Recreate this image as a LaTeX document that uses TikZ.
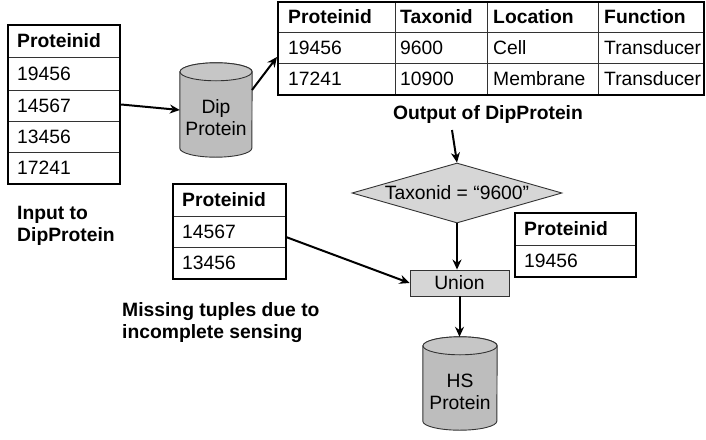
\documentclass[tikz,border=0pt]{standalone}
\usepackage{fontspec}
\setmainfont{Liberation Sans}
\usetikzlibrary{arrows.meta,shapes.geometric}
\definecolor{cylgray}{HTML}{BDBDBD}
\definecolor{cyltop}{HTML}{C6C6C6}
\definecolor{boxgray}{HTML}{D6D6D6}
\tikzset{
  every node/.style={font=\fontsize{19.3}{22}\selectfont, inner sep=0pt},
  tablebox/.style={draw=black, line width=2.4pt},
  sep/.style={draw=black!80, line width=1pt},
  celltxt/.style={anchor=west},
  hdr/.style={anchor=west, font=\fontsize{19.3}{22}\selectfont\bfseries},
  lbl/.style={align=left, anchor=west, font=\fontsize{19.3}{22}\selectfont\bfseries},
  arr/.style={line width=2pt, -{Stealth[length=10pt,width=9pt]}},
  dbnode/.style={minimum width=#1, minimum height=94pt, align=center, draw=none},
  cyl/.style={fill=cylgray, draw=black!80, line width=0.9pt},
}
\begin{document}
\begin{tikzpicture}[x=1pt,y=1pt]
\useasboundingbox (0,0) rectangle (706,-439);

% ---------- left table: input ----------
\node[tablebox, minimum width=112pt, minimum height=159pt] (t1) at (64,-104.5) {};
\draw[sep] (8,-57) -- (120,-57);
\draw[sep] (8,-90) -- (120,-90);
\draw[sep] (8,-121) -- (120,-121);
\draw[sep] (8,-152) -- (120,-152);
\node[hdr] (t1h) at (17,-41) {Proteinid};
\node[celltxt] (t1a) at (17,-73.5) {19456};
\node[celltxt] (t1b) at (17,-105.5) {14567};
\node[celltxt] (t1c) at (17,-136.5) {13456};
\node[celltxt] (t1d) at (17,-168) {17241};
\node[tablebox, minimum width=112pt, minimum height=159pt] at (64,-104.5) {};

\node[lbl] (inlbl) at (17,-226) {Input to\\DipProtein};

% ---------- Dip Protein cylinder ----------
\node[dbnode=72pt] (dip) at (216,-110) {};
\path[cyl] ([yshift=-9pt]dip.north west) -- ([yshift=9pt]dip.south west)
  arc[start angle=180, end angle=360, x radius=36pt, y radius=9pt]
  -- ([yshift=-9pt]dip.north east)
  arc[start angle=0, end angle=180, x radius=36pt, y radius=9pt] -- cycle;
\draw[cyl, fill=cyltop] ([yshift=-9pt]dip.north) ellipse[x radius=36pt, y radius=9pt];
\node[align=center] (diptxt) at ([yshift=-8pt]dip.center) {Dip\\Protein};

\draw[arr] (t1.east) -- (dip.west);

% ---------- big output table ----------
\node[tablebox, minimum width=426pt, minimum height=93pt] (t2) at (491,-48.5) {};
\draw[sep] (278,-32) -- (704,-32);
\draw[sep] (278,-63) -- (704,-63);
\draw[sep] (395,-2) -- (395,-95);
\draw[sep] (487,-2) -- (487,-95);
\draw[sep] (598,-2) -- (598,-95);
\node[hdr] (h1) at (288,-17) {Proteinid};
\node[hdr] (h2) at (400,-17) {Taxonid};
\node[hdr] (h3) at (493,-17) {Location};
\node[hdr] (h4) at (604,-17) {Function};
\node[celltxt] (c11) at (288,-47.5) {19456};
\node[celltxt] (c12) at (400,-47.5) {9600};
\node[celltxt] (c13) at (493,-47.5) {Cell};
\node[celltxt] (c14) at (604,-47.5) {Transducer};
\node[celltxt] (c21) at (288,-79) {17241};
\node[celltxt] (c22) at (400,-79) {10900};
\node[celltxt] (c23) at (493,-79) {Membrane};
\node[celltxt] (c24) at (604,-79) {Transducer};
\node[tablebox, minimum width=426pt, minimum height=93pt] at (491,-48.5) {};

\coordinate (dipout) at (252,-90);
\coordinate (t2in) at (277,-57);
\draw[arr] (dipout) -- (t2in);

\node[font=\fontsize{19.3}{22}\selectfont\bfseries] (outlbl) at (488,-115) {Output of DipProtein};

% ---------- selection diamond ----------
\node[diamond, draw=black!80, line width=0.9pt, fill=boxgray, minimum width=210pt, minimum height=60pt] (dia) at (457,-193) {};
\node (diatxt) at (dia.center) {Taxonid = “9600”};

\coordinate (outstart) at (452,-130);
\draw[arr] (outstart) -- (dia.north);

% ---------- union ----------
\node[draw=black!80, line width=0.9pt, fill=boxgray, minimum width=99pt, minimum height=26pt] (union) at (459.5,-283) {Union};
\draw[arr] (dia.south) -- (dia.south |- union.north);

% ---------- missing tuples table ----------
\node[tablebox, minimum width=113pt, minimum height=95pt] (t3) at (229.5,-231.5) {};
\draw[sep] (173,-216) -- (286,-216);
\draw[sep] (173,-247) -- (286,-247);
\node[hdr] (t3h) at (182,-200) {Proteinid};
\node[celltxt] (t3a) at (182,-231.5) {14567};
\node[celltxt] (t3b) at (182,-263) {13456};
\node[tablebox, minimum width=113pt, minimum height=95pt] at (229.5,-231.5) {};

\node[lbl] (misslbl) at (122,-323) {Missing tuples due to\\incomplete sensing};

\coordinate (t3out) at (286,-237);
\draw[arr] (t3out) -- (union.west);

% ---------- right small table ----------
\node[tablebox, minimum width=121pt, minimum height=64pt] (t4) at (575.5,-245) {};
\draw[sep] (515,-245) -- (636,-245);
\node[hdr] (t4h) at (524,-229) {Proteinid};
\node[celltxt] (t4a) at (524,-261) {19456};
\node[tablebox, minimum width=121pt, minimum height=64pt] at (575.5,-245) {};

% ---------- HS Protein cylinder ----------
\node[dbnode=74pt, minimum height=93pt] (hs) at (460,-383.5) {};
\path[cyl] ([yshift=-9pt]hs.north west) -- ([yshift=9pt]hs.south west)
  arc[start angle=180, end angle=360, x radius=37pt, y radius=9pt]
  -- ([yshift=-9pt]hs.north east)
  arc[start angle=0, end angle=180, x radius=37pt, y radius=9pt] -- cycle;
\draw[cyl, fill=cyltop] ([yshift=-9pt]hs.north) ellipse[x radius=37pt, y radius=9pt];
\node[align=center] (hstxt) at ([yshift=-8pt]hs.center) {HS\\Protein};

\draw[arr] (union.south) -- (union.south |- hs.north);
\end{tikzpicture}
\end{document}
